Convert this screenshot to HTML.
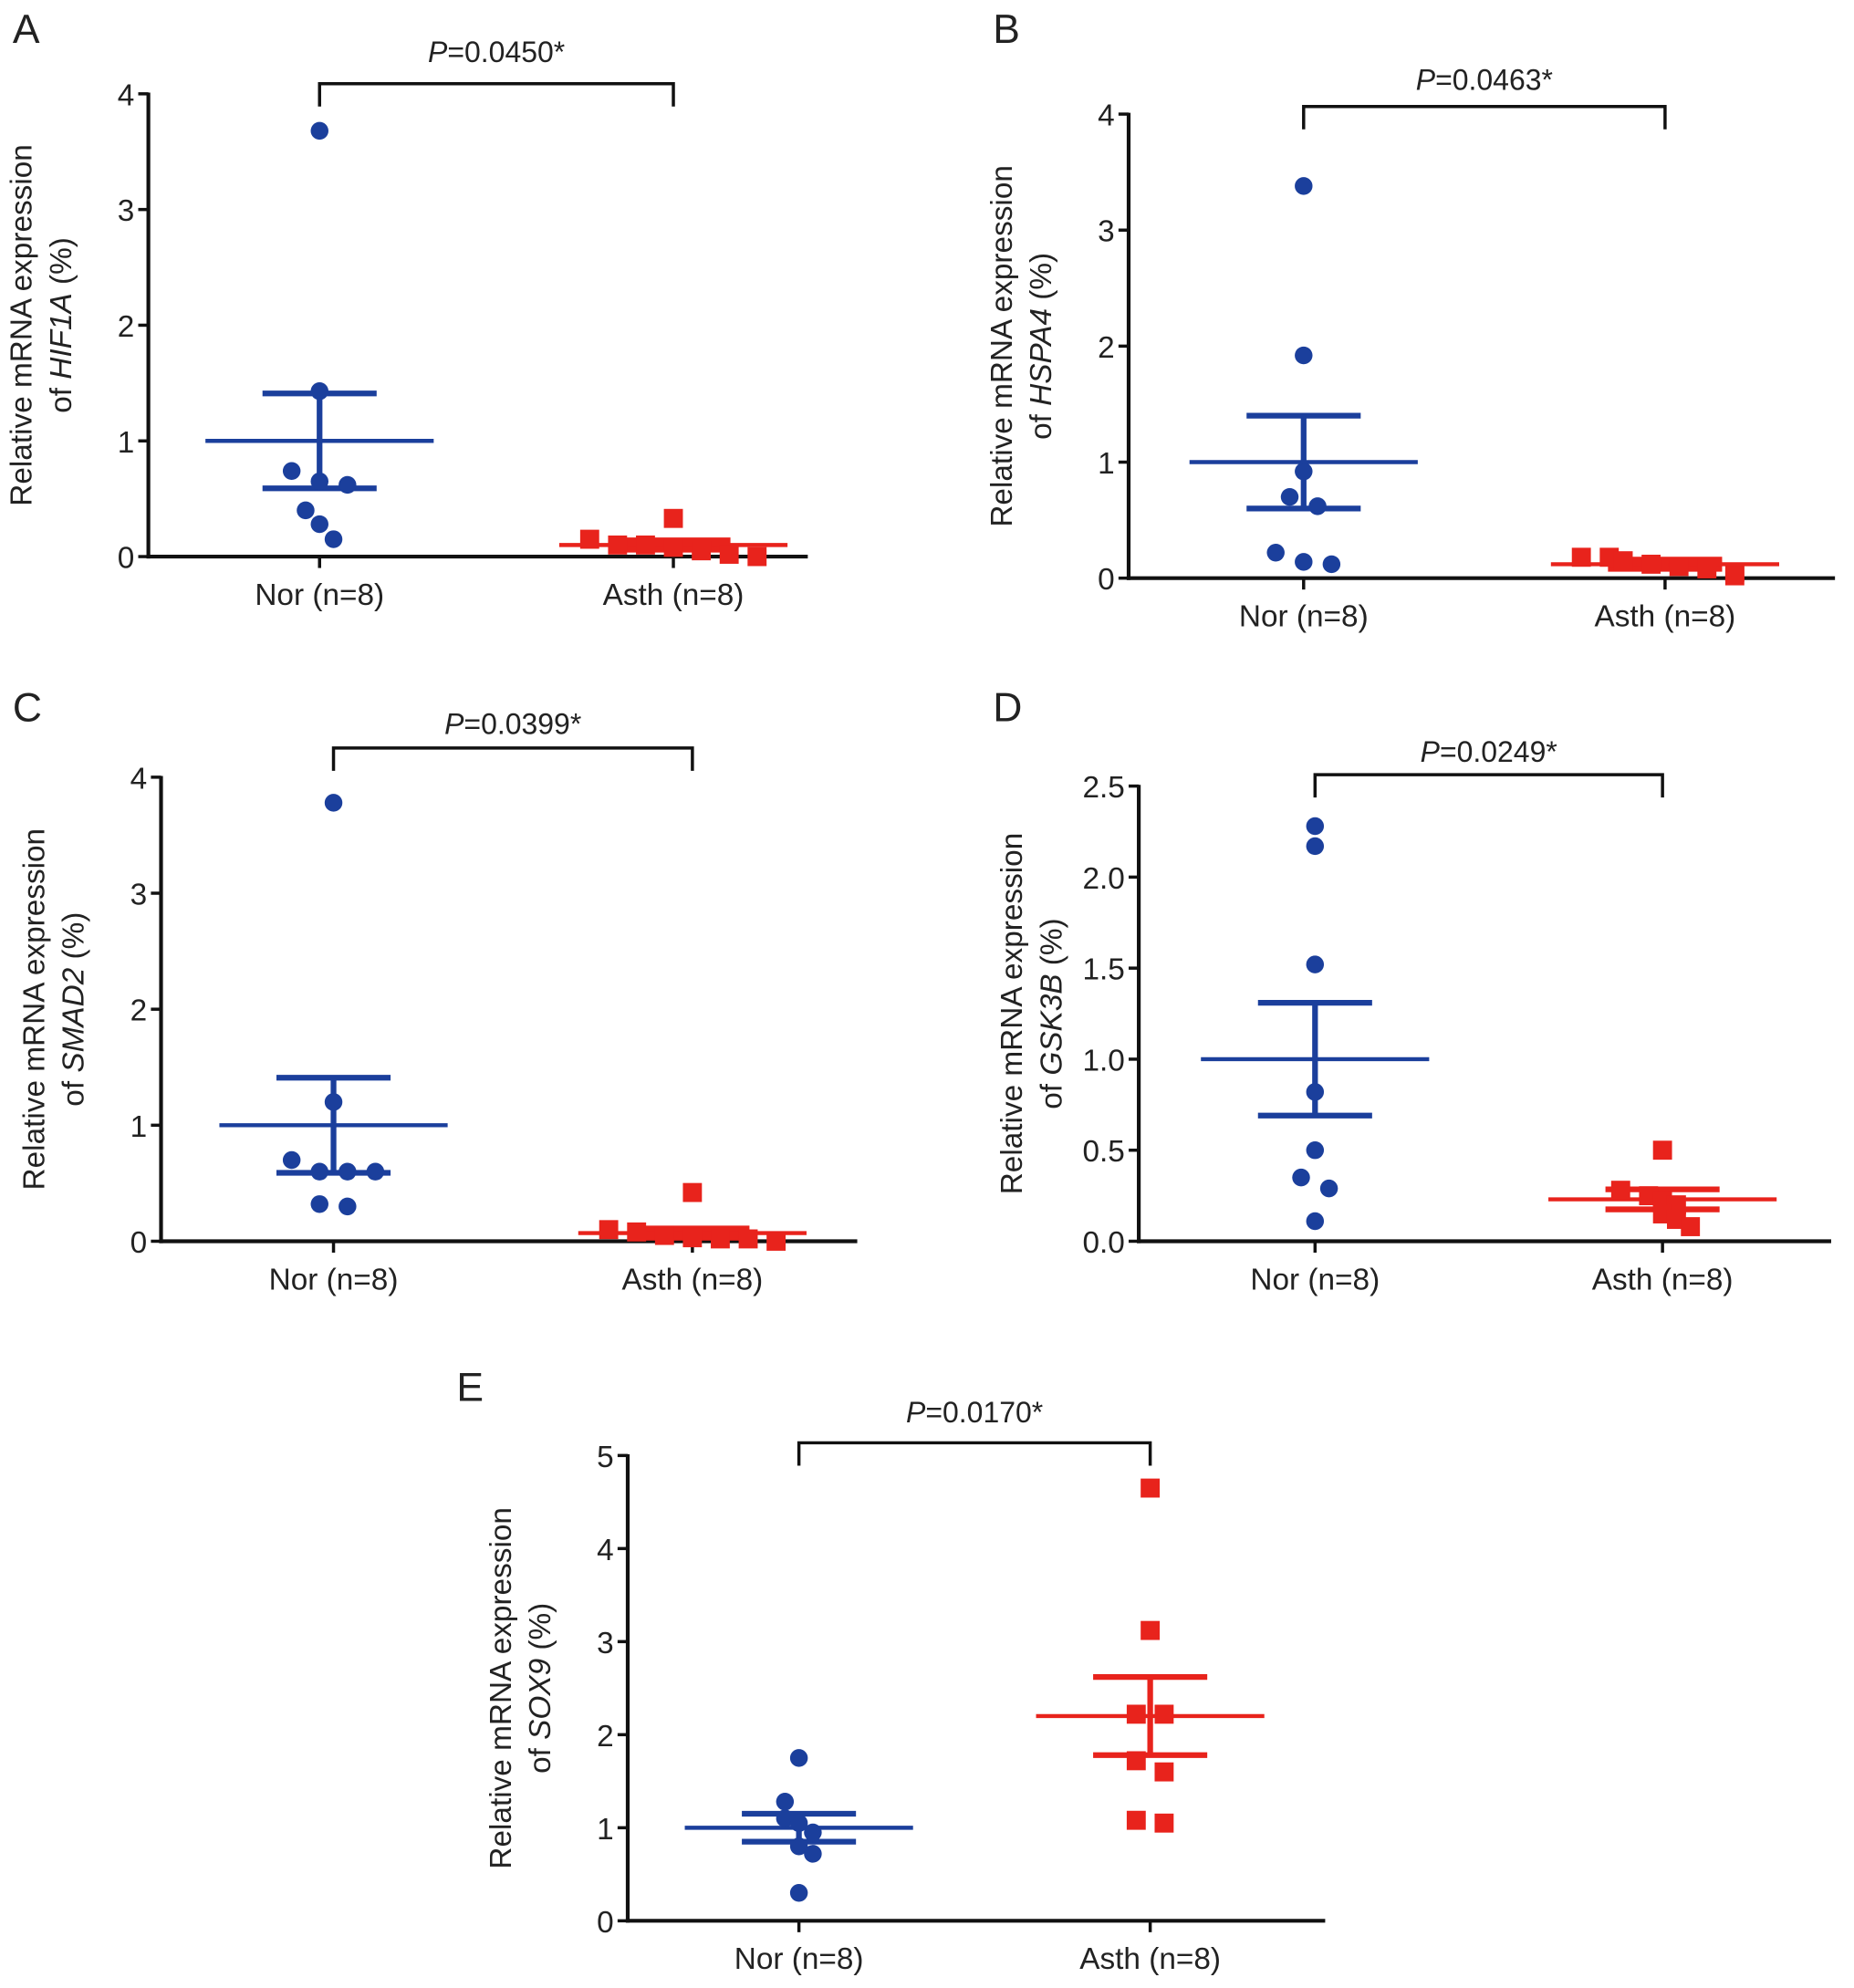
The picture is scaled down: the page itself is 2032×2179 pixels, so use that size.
<!DOCTYPE html>
<html><head><meta charset="utf-8"><style>
html,body{margin:0;padding:0;background:#fff}
svg{display:block}
text{font-family:"Liberation Sans",Arial,sans-serif;fill:#222}
</style></head><body>
<svg id="fig" width="2032" height="2179" viewBox="0 0 1462 1568" preserveAspectRatio="none" xmlns="http://www.w3.org/2000/svg"></svg>
<script>
// ---- data ----
const panelLetters = ["A","B","C","D","E"];
const geneNames = ["HIF1A","HSPA4","SMAD2","GSK3B","SOX9"];
const pValues = ["0.0450","0.0463","0.0399","0.0249","0.0170"];
const categories = ["Nor (n=8)","Asth (n=8)"];
const yMaxes = [4,4,4,2.5,5];
const yTickLabelsA = ["0","1","2","3","4"];
const yTickLabelsB = ["0","1","2","3","4"];
const yTickLabelsC = ["0","1","2","3","4"];
const yTickLabelsD = ["0.0","0.5","1.0","1.5","2.0","2.5"];
const yTickLabelsE = ["0","1","2","3","4","5"];
const norA = [3.68,1.43,0.74,0.65,0.62,0.40,0.28,0.15];
const asthA = [0.33,0.15,0.10,0.10,0.08,0.05,0.02,0.00];
const norB = [3.38,1.92,0.92,0.70,0.62,0.22,0.14,0.12];
const asthB = [0.18,0.18,0.15,0.12,0.10,0.08,0.05,0.02];
const norC = [3.78,1.20,0.70,0.60,0.60,0.60,0.32,0.30];
const asthC = [0.42,0.10,0.08,0.05,0.03,0.02,0.02,0.00];
const norD = [2.28,2.17,1.52,0.82,0.50,0.35,0.29,0.11];
const asthD = [0.50,0.28,0.25,0.22,0.20,0.15,0.12,0.08];
const norE = [1.75,1.28,1.10,1.05,0.95,0.80,0.72,0.30];
const asthE = [4.65,3.12,2.22,2.22,1.72,1.60,1.08,1.05];
const meansNor = [1.0,1.0,1.0,1.0,1.0];
const meansAsth = [0.10,0.12,0.07,0.23,2.20];
const semNor = [0.41,0.40,0.41,0.31,0.15];
const semAsth = [0.04,0.04,0.04,0.055,0.42];

// ---- layout ----
const layouts = [
 {ax:117,top:74,bot:439,right:637,g:[252,531],br:66,pt:40,lx:22,ly:22},
 {ax:890,top:90,bot:456,right:1447,g:[1028,1313],br:84,pt:62,lx:795,ly:22},
 {ax:127,top:613,bot:979,right:676,g:[263,546],br:590,pt:570,lx:22,ly:557},
 {ax:898,top:620,bot:979,right:1444,g:[1037,1311],br:611,pt:592,lx:795,ly:557},
 {ax:495,top:1148,bot:1515,right:1045,g:[630,907],br:1138,pt:1113,lx:372,ly:1093}
];
const svg = document.getElementById('fig');
const NS = 'http://www.w3.org/2000/svg';
function mk(tag, attrs, parent){const e=document.createElementNS(NS,tag);for(const k in attrs)e.setAttribute(k,attrs[k]);(parent||svg).appendChild(e);return e;}
const allNor=[norA,norB,norC,norD,norE], allAsth=[asthA,asthB,asthC,asthD,asthE];
const allTicks=[yTickLabelsA,yTickLabelsB,yTickLabelsC,yTickLabelsD,yTickLabelsE];
const BLUE='#1b3f9c', RED='#e8231c';

layouts.forEach((L,i)=>{
  const g=mk('g',{});
  
  
  const y=v=>L.bot-(v/yMaxes[i])*(L.bot-L.top);
  const lt=mk('text',{x:L.lx-12,y:L.ly+12,'font-size':32},g);lt.textContent=panelLetters[i];
  
  const ya=mk('line',{x1:L.ax,y1:L.top-1,x2:L.ax,y2:L.bot+1.5,stroke:'#111','stroke-width':3},g);
  
  const xa=mk('line',{x1:L.ax-1.5,y1:L.bot,x2:L.right,y2:L.bot,stroke:'#111','stroke-width':3},g);
  
  const ticks=allTicks[i];
  ticks.forEach((t,k)=>{
    const v=k*yMaxes[i]/(ticks.length-1);
    mk('line',{x1:L.ax-8,y1:y(v),x2:L.ax,y2:y(v),stroke:'#111','stroke-width':2.5},g);
    const tt=mk('text',{x:L.ax-11,y:y(v)+9,'font-size':24,'text-anchor':'end'},g);tt.textContent=t;
    
  });
  categories.forEach((c,k)=>{
    mk('line',{x1:L.g[k],y1:L.bot,x2:L.g[k],y2:L.bot+9,stroke:'#111','stroke-width':2.5},g);
    const ct=mk('text',{x:L.g[k],y:L.bot+38,'font-size':24,'text-anchor':'middle'},g);ct.textContent=c;
    
  });
  const cy=(L.top+L.bot)/2, tx=L.ax-92;
  const yt=mk('text',{x:0,y:0,'font-size':24,'text-anchor':'middle',transform:`translate(${tx},${cy}) rotate(-90)`},g);
  
  yt.textContent='Relative mRNA expression';
  const yt2=mk('text',{x:0,y:0,'font-size':24,'text-anchor':'middle',transform:`translate(${tx+31},${cy}) rotate(-90)`},g);
  
  yt2.innerHTML='of <tspan font-style="italic">'+geneNames[i]+'</tspan> (%)';
  const br=mk('path',{d:`M${L.g[0]},${L.br+18}V${L.br}H${L.g[1]}V${L.br+18}`,fill:'none',stroke:'#111','stroke-width':2.5},g);
  
  const pt=mk('text',{x:(L.g[0]+L.g[1])/2,y:L.pt+9,'font-size':23,'text-anchor':'middle'},g);
  
  pt.innerHTML='<tspan font-style="italic">P</tspan>=' + pValues[i] + '*';
  [[allNor[i],meansNor[i],semNor[i],BLUE,0],[allAsth[i],meansAsth[i],semAsth[i],RED,1]].forEach(([vals,m,s,col,k])=>{
    const cx=L.g[k];
    const mean=mk('line',{x1:cx-90,y1:y(m),x2:cx+90,y2:y(m),stroke:col,'stroke-width':3.2},g);
    
    const e=mk('path',{d:`M${cx},${y(m+s)}V${y(m-s)}M${cx-45},${y(m+s)}H${cx+45}M${cx-45},${y(m-s)}H${cx+45}`,stroke:col,'stroke-width':4.5,fill:'none'},g);
    
    vals.forEach((v,j)=>{
      let near=0,rank=0;
      vals.forEach((w,q)=>{if(Math.abs(w-v)<yMaxes[i]*0.04){near++; if(q<j)rank++;}});
      const off=near>1?(rank-(near-1)/2)*22:0;
      const px=cx+off, py=y(v);
      let mark;
      if(k===0) mark=mk('circle',{cx:px,cy:py,r:7,fill:col},g);
      else mark=mk('rect',{x:px-7.5,y:py-7.5,width:15,height:15,fill:col},g);
      
      
    });
  });
});
</script>
</body></html>
